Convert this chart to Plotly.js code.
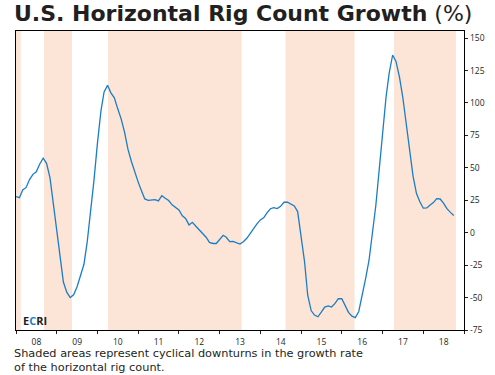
<!DOCTYPE html>
<html>
<head>
<meta charset="utf-8">
<script src="https://cdn.plot.ly/plotly-3.0.1.min.js"></script>
<style>
html,body{margin:0;padding:0;background:#fff;}
#chart{width:495px;height:375px;}
</style>
</head>
<body>
<div id="chart"></div>
<script>
// Monthly growth rate (%) starting Jan 2008
const startMonth = '2008-01';
const growth2008 = [27.8, 27, 33, 34.9, 41, 45, 47, 53, 57.5, 53.5, 42.3, 23];
const growth2009 = [2, -19, -38, -46, -50, -47.9, -41.9, -33.2, -24.5, -6.9, 15, 40.9];
const growth2010 = [69.6, 94, 108.6, 113.6, 107.8, 104, 95.7, 87.8, 77.3, 64.4, 54.9, 46.5];
const growth2011 = [39, 32, 26, 25, 25.5, 25.5, 24.5, 28.5, 26.5, 24.8, 21.5, 19.5];
const growth2012 = [17.5, 13, 11, 6, 8, 5, 2, -0.5, -3.5, -7.5, -8.3, -8.3];
const growth2013 = [-5, -2, -3.5, -6.9, -6.7, -7.5, -8.8, -7, -4.3, -0.7, 3.5, 6.8];
const growth2014 = [9.9, 11.7, 15.3, 18.5, 19.3, 18.6, 20.3, 23.5, 23.5, 22.2, 20.6, 16.3];
const growth2015 = [-2, -22.4, -48, -60, -63.5, -64.8, -61.3, -57.3, -56.5, -57.3, -54.5, -50.9];
const growth2016 = [-50.8, -55.9, -61.4, -64.3, -65.4, -60.7, -48.9, -35.5, -21.4, -1.7, 20.8, 48.2];
const growth2017 = [78.4, 104.6, 123, 137, 132, 120.1, 104.4, 84.2, 63.5, 43.6, 30.2, 23.8];
const growth2018 = [18.9, 19.1, 21.2, 23.2, 26.3, 26, 22.8, 18.5, 15.7, 13.2];

// Shaded cyclical downturns
const downturnStarts = ['2008-01-01', '2008-09-08', '2010-04-05', '2014-08-14', '2017-04-13'];
const downturnEnds   = ['2008-02-12', '2009-05-17', '2013-07-17', '2016-04-24', '2018-10-20'];

const yTickVals = [-75, -50, -25, 0, 25, 50, 75, 100, 125, 150];

const titleMain = 'U.S. Horizontal Rig Count Growth';
const titleUnit = '(%)';
const captionLines = ['Shaded areas represent cyclical downturns in the growth rate', 'of the horizontal rig count.'];

const values = [].concat(growth2008, growth2009, growth2010, growth2011, growth2012,
  growth2013, growth2014, growth2015, growth2016, growth2017, growth2018);
const dates = values.map((v, i) => {
  const y0 = parseInt(startMonth.slice(0, 4)), m0 = parseInt(startMonth.slice(5)) - 1;
  const t = m0 + i;
  const yy = y0 + Math.floor(t / 12), mm = (t % 12) + 1;
  return yy + '-' + String(mm).padStart(2, '0') + '-01';
});

const FONT = 'Open Sans, DejaVu Sans, sans-serif';
const TFONT = 'DejaVu Sans, sans-serif';
const DARK = '#231f20';
const BLUE = '#1a7dc6';
const SHADE = '#fce4d6';

// pixel helpers for paper coordinates (plot area: x 16..464, y 31..329.7)
const PL = 16, PW = 448, PB = 329.7, PH = 298.7;
const px = x => (x - PL) / PW;
const py = y => (PB - y) / PH;

const shapes = downturnStarts.map((s, i) => ({
  type: 'rect', xref: 'x', yref: 'paper', x0: s, x1: downturnEnds[i], y0: 0, y1: 1,
  fillcolor: SHADE, line: {width: 0}, layer: 'below'
}));

const trace = {
  x: dates, y: values, type: 'scatter', mode: 'lines',
  line: {color: BLUE, width: 1.3}, hoverinfo: 'skip'
};

const layout = {
  width: 495, height: 375,
  margin: {l: 16, r: 31, t: 31, b: 45},
  paper_bgcolor: '#fff', plot_bgcolor: 'rgba(0,0,0,0)',
  showlegend: false,
  xaxis: {
    type: 'date', range: ['2008-01-01', '2019-01-01'],
    tick0: '2008-01-01', dtick: 'M12', tickformat: '%y', ticklabelmode: 'period',
    ticks: 'outside', ticklen: 3, tickwidth: 1, tickcolor: DARK,
    showline: true, mirror: true, linecolor: '#000', linewidth: 1.3,
    showgrid: false, zeroline: false,
    tickfont: {family: FONT, size: 8.5, color: DARK}
  },
  yaxis: {
    side: 'right', range: [-75, 155.5],
    tickvals: yTickVals, ticktext: yTickVals.map(String),
    ticks: 'outside', ticklen: 3, tickwidth: 1, tickcolor: DARK,
    showline: true, mirror: true, linecolor: '#000', linewidth: 1.3,
    showgrid: false, zeroline: false,
    tickfont: {family: FONT, size: 8.5, color: DARK}
  },
  shapes: shapes,
  annotations: [
    {
      xref: 'paper', yref: 'paper', x: px(13), y: py(13.5),
      xanchor: 'left', yanchor: 'middle', showarrow: false, borderpad: 0,
      text: '<b>' + titleMain + '</b> <span style="font-weight:normal">' + titleUnit + '</span>',
      font: {family: TFONT, size: 22, color: DARK}
    },
    {
      xref: 'paper', yref: 'paper', x: px(21), y: py(320),
      xanchor: 'left', yanchor: 'middle', showarrow: false,
      text: '<b>E<span style="color:' + BLUE + '">C</span>RI</b>',
      font: {family: FONT, size: 11, color: DARK}
    },
    {
      xref: 'paper', yref: 'paper', x: px(13), y: py(352.8),
      xanchor: 'left', yanchor: 'middle', showarrow: false, borderpad: 0,
      text: captionLines[0],
      font: {family: TFONT, size: 11.3, color: DARK}
    },
    {
      xref: 'paper', yref: 'paper', x: px(13), y: py(367.4),
      xanchor: 'left', yanchor: 'middle', showarrow: false, borderpad: 0,
      text: captionLines[1],
      font: {family: TFONT, size: 11.3, color: DARK}
    }
  ]
};

Plotly.newPlot('chart', [trace], layout, {staticPlot: true, displayModeBar: false});
</script>
</body>
</html>
